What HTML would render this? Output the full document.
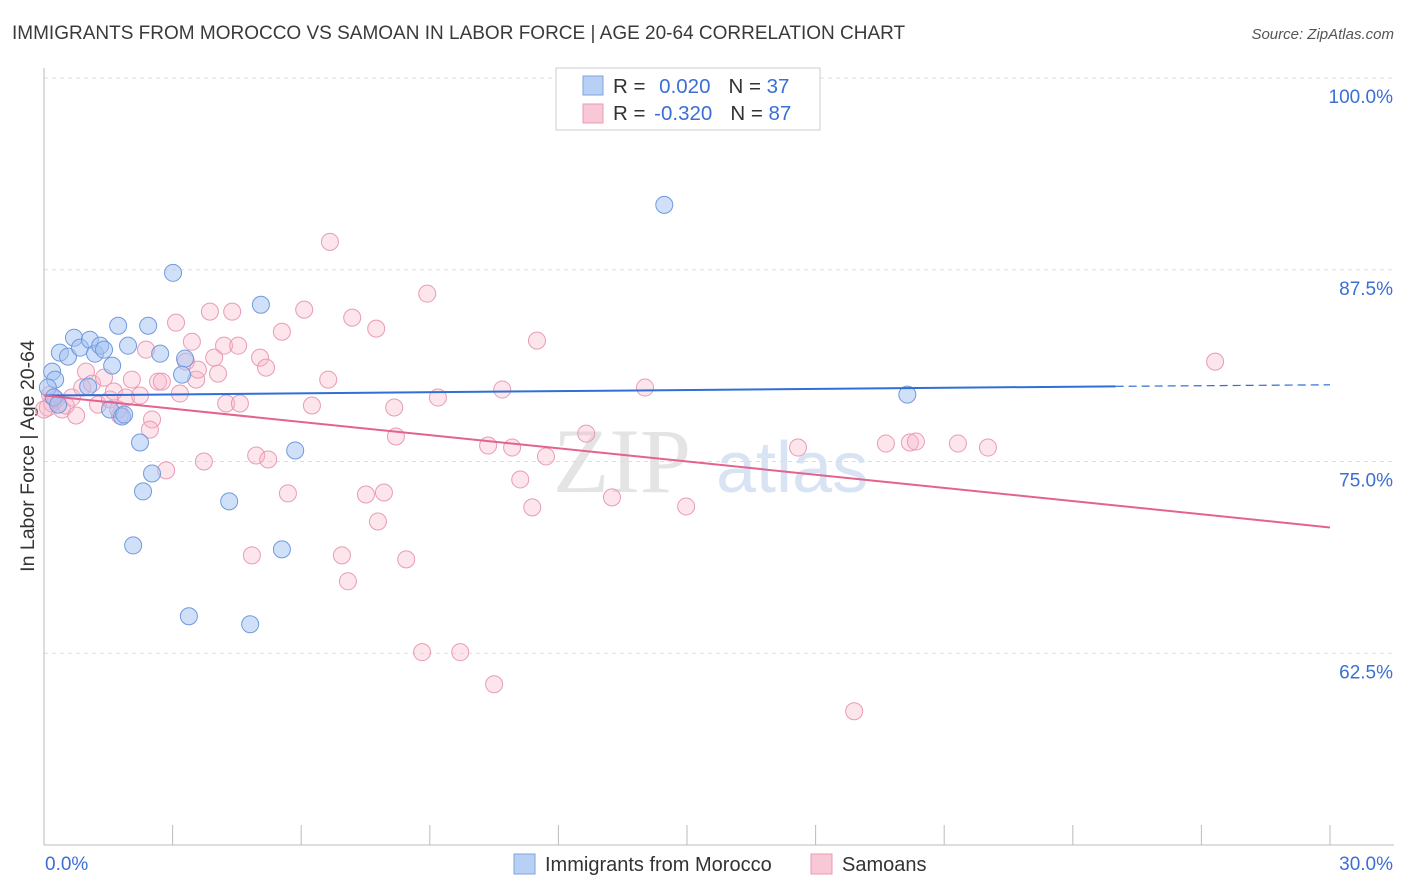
<!DOCTYPE html>
<html><head><meta charset="utf-8">
<style>
body{margin:0;background:#fff;font-family:"Liberation Sans",sans-serif;}
#c{position:relative;width:1406px;height:892px;overflow:hidden;}
</style></head><body>
<div id="c">
<svg id="svg" width="1406" height="892">
<text x="12" y="39" font-size="19" fill="#3a3a3a">IMMIGRANTS FROM MOROCCO VS SAMOAN IN LABOR FORCE | AGE 20-64 CORRELATION CHART</text>
<text x="1394" y="39" font-size="15" fill="#555" font-style="italic" text-anchor="end">Source: ZipAtlas.com</text>
<text x="34" y="456" font-size="19.5" fill="#333" text-anchor="middle" transform="rotate(-90 34 456)">In Labor Force | Age 20-64</text>
<g><text x="553" y="492" font-size="92" fill="#e4e4e4" font-family="Liberation Serif,serif">ZIP</text><text x="716" y="492" font-size="72" fill="#d8e4f4">atlas</text></g>
<g id="grid"></g><g id="axes"></g><g id="pts"></g><g id="trend"></g>
<g>
<rect x="556" y="68" width="264" height="62" fill="#fff" stroke="#ccc"/>
<rect x="583" y="76" width="20" height="19" fill="#b8d0f4" stroke="#7ba3e0"/>
<rect x="583" y="104" width="20" height="19" fill="#f9c8d6" stroke="#e89ab4"/>
<text x="613" y="93" font-size="20.5" fill="#333">R = <tspan fill="#3b6fd4" dx="8">0.020</tspan><tspan dx="18">N = </tspan><tspan fill="#3b6fd4">37</tspan></text>
<text x="613" y="120" font-size="20.5" fill="#333">R = <tspan fill="#3b6fd4" dx="3">-0.320</tspan><tspan dx="18">N = </tspan><tspan fill="#3b6fd4">87</tspan></text>
</g>
<g>
<rect x="514" y="854" width="21" height="20" fill="#b8d0f4" stroke="#7ba3e0"/>
<text x="545" y="871" font-size="20" fill="#333">Immigrants from Morocco</text>
<rect x="811" y="854" width="21" height="20" fill="#f9c8d6" stroke="#e89ab4"/>
<text x="842" y="871" font-size="20" fill="#333">Samoans</text>
</g>
</svg></div>
<script>
const yTicks=[62.5,75,87.5,100];
const yTickLabels=["62.5%","75.0%","87.5%","100.0%"];
const xTicks=[0,3,6,9,12,15,18,21,24,27,30];
const xLabels=["0.0%","30.0%"];
const moroccoX=[0.19,0.26,0.09,0.37,0.70,0.56,0.84,1.07,1.19,1.31,1.40,1.59,1.73,1.96,2.43,2.71,3.01,3.29,3.22,1.03,1.54,1.82,1.87,2.24,2.52,2.31,2.08,4.32,5.06,5.86,5.55,3.38,4.81,14.47,20.14,0.23,0.33];
const moroccoY=[80.86,80.34,79.82,82.10,83.07,81.84,82.42,82.94,82.03,82.55,82.29,81.25,83.85,82.55,83.85,82.03,87.30,81.71,80.66,79.88,78.39,77.93,78.06,76.24,74.22,73.05,69.53,72.40,85.22,75.72,69.27,64.91,64.39,91.73,79.36,79.17,78.71];
const samoanX=[0.09,0.19,0.28,0.42,0.51,0.65,0.75,0.89,0.98,1.12,1.26,1.40,1.54,1.63,1.77,1.91,2.05,2.24,2.38,2.52,2.66,2.75,2.85,3.08,3.17,3.31,3.45,3.55,3.59,3.73,3.87,3.97,4.06,4.20,4.25,4.39,4.53,4.57,4.85,4.95,5.04,5.18,5.23,5.55,5.69,6.07,6.25,6.63,6.67,6.95,7.09,7.19,7.51,7.75,7.79,7.93,8.17,8.21,8.45,8.82,8.94,9.19,9.71,10.36,10.50,10.69,10.92,11.11,11.39,11.50,11.71,12.65,13.25,14.02,14.98,17.59,18.90,19.64,20.20,20.34,21.32,22.02,27.32,0.00,0.14,1.73,2.47];
const samoanY=[78.52,78.78,79.04,78.39,78.65,79.17,78.00,79.82,80.86,80.08,78.71,80.47,79.04,79.56,78.00,79.17,80.34,79.30,82.29,77.74,80.21,80.21,74.42,84.05,79.43,81.51,82.81,80.34,80.99,75.00,84.77,81.77,80.73,82.55,78.78,84.77,82.55,78.78,68.88,75.39,81.77,81.12,75.13,83.46,72.92,84.90,78.65,80.34,89.32,68.88,67.19,84.38,72.85,83.66,71.09,72.98,78.52,76.63,68.62,62.57,85.94,79.17,62.57,76.04,60.48,79.69,75.91,73.83,72.01,82.88,75.33,76.82,72.66,79.82,72.07,75.91,58.72,76.17,76.24,76.30,76.17,75.91,81.51,78.39,79.36,78.39,77.08];
const moroccoTrendX=[0,25,30];
const moroccoTrendY=[79.3,79.9,80.0];
const samoanTrendX=[0,30];
const samoanTrendY=[79.3,70.7];

const NS="http://www.w3.org/2000/svg";
const X0=44,X1=1330,Y0=845,Y1=78;
function sx(v){return X0+(v-0)/30*(X1-X0);}
function sy(v){return Y0-(v-50)/50*(Y0-Y1);}
function mk(t,a,p){const e=document.createElementNS(NS,t);for(const k in a)e.setAttribute(k,a[k]);document.getElementById(p).appendChild(e);return e;}

yTicks.forEach((v,i)=>{
  const l=mk('line',{x1:X0,x2:1394,y1:sy(v),y2:sy(v),stroke:'#ddd','stroke-dasharray':'4,4'},'grid');
  
  
  const t=mk('text',{x:1393,y:sy(v)+25,'text-anchor':'end','font-size':19,fill:'#3b6fd4'},'grid');
  t.textContent=yTickLabels[i];
  
  
});
const ax=mk('line',{x1:X0,x2:X0,y1:68,y2:Y0,stroke:'#bbb'},'axes');


const bx=mk('line',{x1:X0,x2:1394,y1:Y0,y2:Y0,stroke:'#bbb'},'axes');


xTicks.forEach(v=>{
  const l=mk('line',{x1:sx(v),x2:sx(v),y1:Y0,y2:Y0-20,stroke:'#bbb'},'axes');
  
  
});
const xl0=mk('text',{x:45,y:870,'font-size':19,fill:'#3b6fd4'},'axes');
xl0.textContent=xLabels[0];


const xl1=mk('text',{x:1393,y:870,'font-size':19,fill:'#3b6fd4','text-anchor':'end'},'axes');
xl1.textContent=xLabels[1];



samoanX.forEach((v,i)=>{
  const c=mk('circle',{cx:sx(v),cy:sy(samoanY[i]),r:8.5,fill:'rgba(248,180,200,0.35)',stroke:'#e99bb6','stroke-width':1},'pts');
  
  
});
moroccoX.forEach((v,i)=>{
  const c=mk('circle',{cx:sx(v),cy:sy(moroccoY[i]),r:8.5,fill:'rgba(164,194,244,0.5)',stroke:'#6f9ade','stroke-width':1},'pts');
  
  
});
const t1=mk('line',{x1:sx(moroccoTrendX[0]),y1:sy(moroccoTrendY[0]),x2:sx(moroccoTrendX[1]),y2:sy(moroccoTrendY[1]),stroke:'#2f6fd6','stroke-width':2},'trend');


const t2=mk('line',{x1:sx(moroccoTrendX[1]),y1:sy(moroccoTrendY[1]),x2:sx(moroccoTrendX[2]),y2:sy(moroccoTrendY[2]),stroke:'#2f6fd6','stroke-width':1.2,'stroke-dasharray':'8,5'},'trend');


const t3=mk('line',{x1:sx(samoanTrendX[0]),y1:sy(samoanTrendY[0]),x2:sx(samoanTrendX[1]),y2:sy(samoanTrendY[1]),stroke:'#e4628e','stroke-width':2},'trend');


</script>
</body></html>
